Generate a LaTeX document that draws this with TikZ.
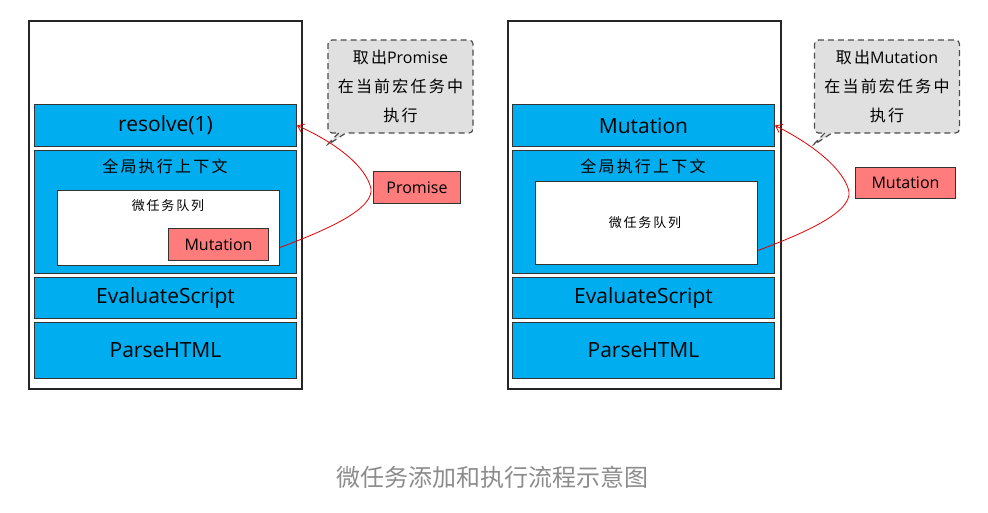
\documentclass[tikz,border=0pt]{standalone}
\usepackage{fontspec}
\setmainfont{Open Sans}
\newfontfamily\cjk[LetterSpace=14]{Noto Sans CJK SC}
\newfontfamily\capfont{Noto Sans CJK SC}
\usetikzlibrary{shapes.callouts,arrows.meta}
\definecolor{skyb}{RGB}{0,174,239}
\definecolor{lred}{RGB}{255,124,124}
\definecolor{cgray}{RGB}{224,224,224}
\definecolor{capgray}{RGB}{140,140,140}
\begin{document}
\begin{tikzpicture}[x=1pt,y=-1pt,
  frame/.style={draw=black!85, line width=1.8pt, fill=white, anchor=north west, inner sep=0, minimum width=273pt, minimum height=368pt},
  bluebox/.style={draw=black!80, line width=1pt, fill=skyb, anchor=north west, inner sep=0, minimum width=262pt, font=\fontsize{21}{24}\selectfont},
  wbox/.style={draw=black!80, line width=1pt, fill=white, anchor=north west, inner sep=0},
  rbox/.style={draw=black!80, line width=1pt, fill=lred, anchor=north west, inner sep=0, font=\fontsize{16}{19}\selectfont},
  note/.style={rectangle callout, draw=black!70, dash pattern=on 6pt off 4pt, line width=1.2pt, fill=cgray, rounded corners=4pt, minimum width=145pt, minimum height=93pt, inner sep=0, align=center, font=\fontsize{16}{29}\selectfont},
  cjklabel/.style={font=\cjk\fontsize{16}{18}\selectfont},
  qlabel/.style={font=\cjk\fontsize{13}{16}\selectfont},
  link/.style={draw=red!90!black, line width=0.8pt, -{Straight Barb[length=6pt,width=9pt]}}
]
\useasboundingbox (0,0) rectangle (988,512);
% ---------- left panel ----------
\node[frame] (fL) at (28,20) {};
\node[bluebox, minimum height=42pt] (rL) at (34,104) {resolve(1)};
\node[bluebox, minimum height=123pt] (gL) at (34,150) {};
\node[cjklabel] (gtL) at (165,166) {全局执行上下文};
\node[wbox, minimum width=222pt, minimum height=75pt] (qL) at (57,190) {};
\node[qlabel] (qtL) at (168,206) {微任务队列};
\node[rbox, minimum width=100pt, minimum height=32pt] (mL) at (168,228) {Mutation};
\node[bluebox, minimum height=41pt] (eL) at (34,277) {EvaluateScript};
\node[bluebox, minimum height=56pt] (pL) at (34,322) {ParseHTML};
\node[note, callout absolute pointer={(326,146)}] (nL) at (400.5,86.5) {{\cjk 取出}Promise\\{\cjk 在当前宏任务中}\\{\cjk 执行}};
\node[rbox, minimum width=87pt, minimum height=32pt] (prL) at (373,171) {Promise};
\draw[link] ([yshift=-19.5pt]qL.east) .. controls (340,225) and (378,205) .. (370,185) .. controls (362,162) and (330,140) .. (rL.east);
% ---------- right panel ----------
\node[frame] (fR) at (507,20) {};
\node[bluebox, minimum height=42pt] (rR) at (512,104) {Mutation};
\node[bluebox, minimum height=123pt] (gR) at (512,150) {};
\node[cjklabel] (gtR) at (643,166) {全局执行上下文};
\node[wbox, minimum width=222pt, minimum height=83pt] (qR) at (535,181) {};
\node[qlabel] (qtR) at (645,223) {微任务队列};
\node[bluebox, minimum height=41pt] (eR) at (512,277) {EvaluateScript};
\node[bluebox, minimum height=56pt] (pR) at (512,322) {ParseHTML};
\node[note, callout absolute pointer={(812,146)}] (nR) at (887,86.5) {{\cjk 取出}Mutation\\{\cjk 在当前宏任务中}\\{\cjk 执行}};
\node[rbox, minimum width=100pt, minimum height=31pt] (mR) at (855,167) {Mutation};
\draw[link] ([yshift=-27.5pt]qR.east) .. controls (818,228) and (856,208) .. (848,188) .. controls (840,165) and (808,142) .. (rR.east);
% ---------- caption ----------
\node[font=\capfont\fontsize{24}{28}\selectfont, text=capgray] (cap) at (492,477) {微任务添加和执行流程示意图};
\end{tikzpicture}
\end{document}
